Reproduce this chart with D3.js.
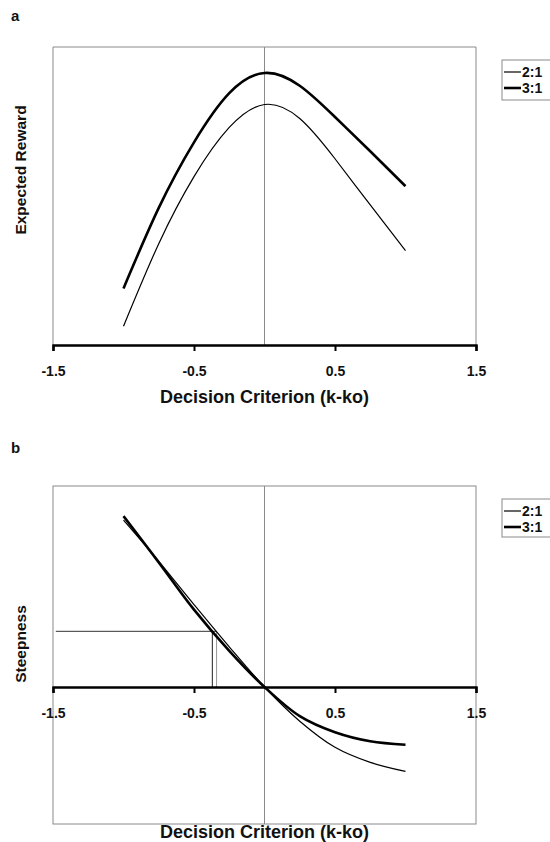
<!DOCTYPE html>
<html><head><meta charset="utf-8">
<script src="https://cdn.jsdelivr.net/npm/d3@7"></script>
<style>body{margin:0;background:#fff}svg{display:block}text{font-family:"Liberation Sans",Arial,sans-serif;font-weight:bold;fill:#111}</style>
</head><body>
<script>
// ---- data ----
const seriesNames = ["2:1", "3:1"];
const xTicks = [-1.5, -0.5, 0.5, 1.5];
const xPoints = [-1, -0.75, -0.5, -0.25, 0, 0.25, 0.5, 0.75, 1];
const reward21 = [0.063, 0.34, 0.565, 0.73, 0.807, 0.76, 0.625, 0.47, 0.317];
const reward31 = [0.19, 0.46, 0.68, 0.845, 0.913, 0.87, 0.765, 0.65, 0.533];
const steep21 = [0.83, 0.625, 0.41, 0.2, 0, -0.17, -0.30, -0.375, -0.42];
const steep31 = [0.85, 0.62, 0.385, 0.18, 0, -0.145, -0.225, -0.27, -0.287];
const guideY = 0.277;
const guideX = [-0.37, -0.34];

const W = 550, H = 842;
const svg = d3.select("body").append("svg").attr("width", W).attr("height", H);

const x = d3.scaleLinear().domain([-1.5, 1.5]).range([53, 476]);
const widths = {"2:1": 1.2, "3:1": 2.6};
const gray = "#8a8a8a";

function legend(g, top, h) {
  g.append("rect").attr("x", 502).attr("y", top).attr("width", 60).attr("height", h)
    .attr("fill", "none").attr("stroke", gray).attr("stroke-width", 1);
  seriesNames.forEach((n, i) => {
    const yy = top + 12 + i * 16;
    g.append("line").attr("x1", 504).attr("x2", 521).attr("y1", yy).attr("y2", yy)
      .attr("stroke", "#000").attr("stroke-width", widths[n]);
    g.append("text").attr("x", 522).attr("y", yy + 5).attr("font-size", 14).text(n);
  });
}

function xAxis(g, yPos) {
  g.append("g").attr("transform", `translate(0,${yPos})`)
    .call(d3.axisBottom(x).tickValues(xTicks).tickSize(6).tickFormat(d => d.toFixed(1)))
    .call(a => {
      a.select(".domain").attr("stroke", "#000").attr("stroke-width", 2.4);
      a.selectAll(".tick line").attr("stroke", "#000").attr("stroke-width", 2);
      a.selectAll(".tick text").attr("font-size", 14).attr("y", 21)
        .style("font-family", '"Liberation Sans",Arial,sans-serif').style("font-weight", "bold").attr("fill", "#111");
    });
}

// ---------- Panel a ----------
{
  const g = svg.append("g");
  const y = d3.scaleLinear().domain([0, 1]).range([345, 47]);
  g.append("text").attr("x", 11).attr("y", 21).attr("font-size", 15).text("a");
  g.append("path").attr("d", `M${x(-1.5)},${y(0)}V${y(1)}H${x(1.5)}V${y(0)}`)
    .attr("fill", "none").attr("stroke", gray).attr("stroke-width", 1);
  g.append("line").attr("x1", x(0)).attr("x2", x(0)).attr("y1", y(1)).attr("y2", y(0))
    .attr("stroke", gray).attr("stroke-width", 1);
  const line = d3.line().x((d, i) => x(xPoints[i])).y(d => y(d)).curve(d3.curveNatural);
  [[reward21, "2:1"], [reward31, "3:1"]].forEach(([s, n]) => {
    g.append("path").attr("d", line(s)).attr("fill", "none").attr("stroke", "#000")
      .attr("stroke-width", widths[n]);
  });
  xAxis(g, y(0));
  g.append("text").attr("x", x(0)).attr("y", 403).attr("text-anchor", "middle").attr("font-size", 18)
    .text("Decision Criterion (k-ko)");
  g.append("text").attr("transform", `translate(26,170) rotate(-90)`)
    .attr("text-anchor", "middle").attr("font-size", 15.5).text("Expected Reward");
  legend(g, 60, 40);
}

// ---------- Panel b ----------
{
  const g = svg.append("g");
  const y = d3.scaleLinear().domain([0, 1]).range([687, 486]);
  const yBottom = 824;
  g.append("text").attr("x", 11).attr("y", 453).attr("font-size", 15).text("b");
  g.append("rect").attr("x", x(-1.5)).attr("y", y(1)).attr("width", x(1.5) - x(-1.5))
    .attr("height", yBottom - y(1)).attr("fill", "none").attr("stroke", gray).attr("stroke-width", 1);
  g.append("line").attr("x1", x(0)).attr("x2", x(0)).attr("y1", y(1)).attr("y2", yBottom)
    .attr("stroke", gray).attr("stroke-width", 1);
  g.append("line").attr("x1", x(-1.48)).attr("x2", x(guideX[1])).attr("y1", y(guideY)).attr("y2", y(guideY))
    .attr("stroke", "#333").attr("stroke-width", 1);
  g.append("line").attr("x1", x(guideX[0])).attr("x2", x(guideX[0])).attr("y1", y(guideY)).attr("y2", y(0))
    .attr("stroke", "#222").attr("stroke-width", 1);
  g.append("line").attr("x1", x(guideX[1])).attr("x2", x(guideX[1])).attr("y1", y(guideY)).attr("y2", y(0))
    .attr("stroke", "#999").attr("stroke-width", 1);
  const line = d3.line().x((d, i) => x(xPoints[i])).y(d => y(d)).curve(d3.curveCatmullRom.alpha(0.5));
  [[steep21, "2:1"], [steep31, "3:1"]].forEach(([s, n]) => {
    g.append("path").attr("d", line(s)).attr("fill", "none").attr("stroke", "#000")
      .attr("stroke-width", widths[n]);
  });
  xAxis(g, y(0));
  g.append("text").attr("x", x(0)).attr("y", 838).attr("text-anchor", "middle").attr("font-size", 18)
    .text("Decision Criterion (k-ko)");
  g.append("text").attr("transform", `translate(26,644) rotate(-90)`)
    .attr("text-anchor", "middle").attr("font-size", 15.5).text("Steepness");
  legend(g, 499, 38);
}
</script>
</body></html>
